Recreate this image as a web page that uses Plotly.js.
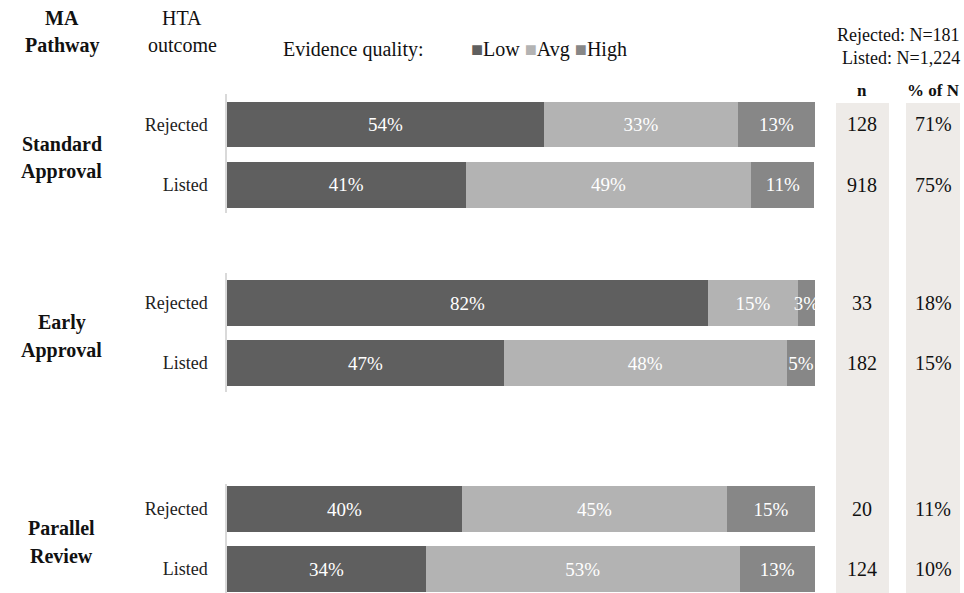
<!DOCTYPE html>
<html>
<head>
<meta charset="utf-8">
<script src="https://cdn.plot.ly/plotly-3.0.1.min.js"></script>
<style>html,body{margin:0;padding:0;background:#fff;}#chart{width:964px;height:593px;}</style>
</head>
<body>
<div id="chart"></div>
<script>
// ---- data ----
const pathways = ["Standard Approval", "Early Approval", "Parallel Review"];
const outcomes = ["Rejected", "Listed"];
const qualities = ["Low", "Avg", "High"];
// one value per bar: [Std-Rej, Std-List, Early-Rej, Early-List, Par-Rej, Par-List]
const lowVals  = [53.9, 40.6, 81.8, 47.1, 40.0, 33.8];
const avgVals  = [33.0, 48.6, 15.3, 48.1, 45.0, 53.4];
const highVals = [13.1, 10.7, 2.9, 4.8, 15.0, 12.8];
const lowLbl  = ["54%", "41%", "82%", "47%", "40%", "34%"];
const avgLbl  = ["33%", "49%", "15%", "48%", "45%", "53%"];
const highLbl = ["13%", "11%", "3%", "5%", "15%", "13%"];
const nVals   = ["128", "918", "33", "182", "20", "124"];
const pctOfN  = ["71%", "75%", "18%", "15%", "11%", "10%"];
const headerN = ["Rejected: N=181", "Listed: N=1,224"];

// ---- styles ----
const colors = {Low: "#5f5f5f", Avg: "#b3b3b3", High: "#878787"};
const FONT = "Liberation Serif";
const W = 964, H = 593;
const px = v => v / W;
const py = v => 1 - v / H;
const yAxes = ["y", "y2", "y3"];
const yDomains = [[py(213), py(94)], [py(392), py(273)], [0, py(484)]];
const yRanges = [[-0.463, 1.504], [-0.483, 1.5], [-0.4, 1.417]];

const series = {Low: [lowVals, lowLbl], Avg: [avgVals, avgLbl], High: [highVals, highLbl]};
const barFont = {family: FONT, size: 19, color: "#ffffff"};
const traces = [];
pathways.forEach((p, g) => {
  qualities.forEach(q => {
    const [vals, lbls] = series[q];
    traces.push({
      type: "bar", orientation: "h",
      x: [vals[2 * g], vals[2 * g + 1]],
      y: outcomes,
      text: [lbls[2 * g], lbls[2 * g + 1]],
      textposition: "inside", insidetextanchor: "middle",
      constraintext: "none", textangle: 0, cliponaxis: false,
      textfont: barFont,
      marker: {color: colors[q]},
      name: q, xaxis: "x", yaxis: yAxes[g], hoverinfo: "skip", showlegend: false
    });
  });
});

const layout = {
  width: W, height: H,
  margin: {l: 0, r: 0, t: 0, b: 0},
  paper_bgcolor: "#ffffff", plot_bgcolor: "rgba(0,0,0,0)",
  barmode: "stack", bargap: 0.24, showlegend: false,
  font: {family: FONT, color: "#222"},
  xaxis: {domain: [px(227), px(815)], range: [0, 100.001], visible: false, fixedrange: true},
  shapes: [
    {type: "rect", xref: "paper", yref: "paper", x0: px(836), x1: px(889), y0: 0, y1: py(103),
     fillcolor: "#eeebe8", line: {width: 0}, layer: "below"},
    {type: "rect", xref: "paper", yref: "paper", x0: px(906), x1: px(960), y0: 0, y1: py(103),
     fillcolor: "#eeebe8", line: {width: 0}, layer: "below"}
  ],
  annotations: []
};

yAxes.forEach((ya, g) => {
  const key = g === 0 ? "yaxis" : "yaxis" + (g + 1);
  layout[key] = {
    domain: yDomains[g], anchor: "x", type: "category",
    categoryorder: "array", categoryarray: outcomes.slice().reverse(),
    range: yRanges[g], showline: true, linecolor: "#d9d9d9", linewidth: 1.5,
    showgrid: false, zeroline: false, ticks: "", ticklabelstandoff: 14,
    tickfont: {family: FONT, size: 18, color: "#222"}, fixedrange: true
  };
  const words = pathways[g].split(" ");
  words.forEach((w, i) => {
    layout.annotations.push({
      xref: "paper", yref: ya, x: px(62), y: 0.45, xanchor: "center", yanchor: "middle",
      yshift: (i === 0 ? 14 : -14), showarrow: false,
      text: "<b>" + w + "</b>", font: {family: FONT, size: 20, color: "#111"}
    });
  });
  outcomes.forEach((o, j) => {
    layout.annotations.push({
      xref: "paper", yref: ya, x: px(862), y: o, xanchor: "center", yanchor: "middle",
      showarrow: false, text: nVals[2 * g + j], font: {family: FONT, size: 20, color: "#111"}
    });
    layout.annotations.push({
      xref: "paper", yref: ya, x: px(933), y: o, xanchor: "center", yanchor: "middle",
      showarrow: false, text: pctOfN[2 * g + j], font: {family: FONT, size: 20, color: "#111"}
    });
  });
});

const hdr = (text, x, y, anchor, size, bold) => layout.annotations.push({
  xref: "paper", yref: "paper", x: px(x), y: py(y), xanchor: anchor, yanchor: "middle",
  showarrow: false, text: bold ? "<b>" + text + "</b>" : text,
  font: {family: FONT, size: size, color: "#111"}
});
hdr("MA", 62, 18, "center", 20, true);
hdr("Pathway", 62, 45, "center", 20, true);
hdr("HTA", 182, 18, "center", 20, false);
hdr("outcome", 182, 45, "center", 20, false);
hdr("Evidence quality:", 281, 50, "left", 20, false);
layout.annotations.push({
  xref: "paper", yref: "paper", x: px(469), y: py(50), xanchor: "left", yanchor: "middle",
  showarrow: false,
  text: qualities.map(q => '<span style="color:' + colors[q] + '">■</span>' + q).join(" "),
  font: {family: FONT, size: 20, color: "#111"}
});
hdr(headerN[0], 962, 35, "right", 18, false);
hdr(headerN[1], 962, 58, "right", 18, false);
hdr("n", 862, 91, "center", 17, true);
hdr("% of N", 933, 91, "center", 17, true);

Plotly.newPlot("chart", traces, layout, {displayModeBar: false});
</script>
</body>
</html>
